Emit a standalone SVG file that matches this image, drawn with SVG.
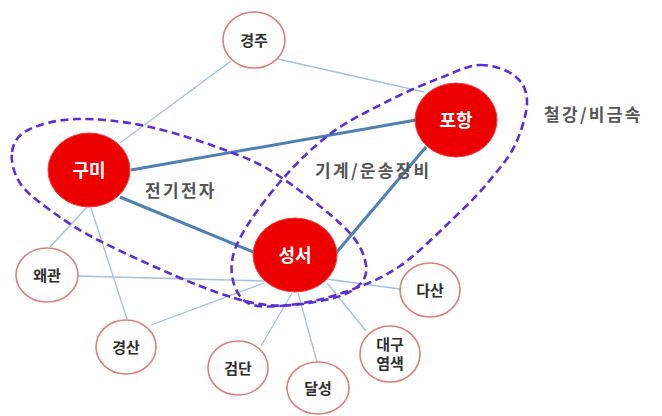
<svg xmlns="http://www.w3.org/2000/svg" width="662" height="416" viewBox="0 0 662 416">
<style>
.bg{fill:#ffffff}
.thin{stroke:#a3c1db;stroke-width:1.3;fill:none}
.thick{stroke:#4f7fb3;stroke-width:3;fill:none}
.cluster{fill:none;stroke:#5b2fd2;stroke-width:2.6;stroke-dasharray:8 4.5}
.big{fill:#ec0000;stroke:#ff3a3a;stroke-width:1}
.small{fill:#ffffff;stroke:#d9817b;stroke-width:1.6}
.bl{font-family:"Noto Sans CJK KR","Noto Sans",sans-serif;font-weight:bold;font-size:18px;fill:#ffffff;text-anchor:middle}
.sl{font-family:"Noto Sans CJK KR","Noto Sans",sans-serif;font-weight:bold;font-size:15px;fill:#2e2e2e;text-anchor:middle}
.cat{font-family:"Noto Sans CJK KR","Noto Sans",sans-serif;font-weight:bold;font-size:17px;fill:#555555;letter-spacing:2.3px}
</style>
<rect class="bg" x="0" y="0" width="662" height="416"/>
<g id="connectors">
<line class="thin" x1="120" y1="143" x2="231" y2="61"/>
<line class="thin" x1="278" y1="59" x2="424" y2="92"/>
<line class="thin" x1="87" y1="207" x2="50" y2="247"/>
<line class="thin" x1="91" y1="208" x2="127" y2="319"/>
<line class="thin" x1="77" y1="276" x2="265" y2="281"/>
<line class="thin" x1="151" y1="325" x2="264" y2="283"/>
<line class="thin" x1="261" y1="346" x2="292" y2="293"/>
<line class="thin" x1="317" y1="362" x2="298" y2="293"/>
<line class="thin" x1="366" y1="331" x2="327" y2="283"/>
<line class="thin" x1="400" y1="289" x2="326" y2="279"/>
<line class="thick" x1="131" y1="170" x2="416" y2="120"/>
<line class="thick" x1="120" y1="197" x2="256" y2="253"/>
<line class="thick" x1="426" y1="147" x2="336" y2="253"/>
</g>
<g id="clusters">
<path id="cluster-electronics" class="cluster" d="M12,152 C13.3,143.2 17.2,135.5 28,130 C38.8,124.5 56.7,119.5 77,119 C97.3,118.5 124,121.3 150,127 C176,132.7 211,144.5 233,153 C255,161.5 263,165.2 282,178 C301,190.8 333,215.5 347,230 C361,244.5 364.3,255.5 366,265 C367.7,274.5 363.8,281.2 357,287 C350.2,292.8 340,297 325,300 C310,303 287.8,307.3 267,305 C246.2,302.7 227.8,296.7 200,286 C172.2,275.3 125,253.7 100,241 C75,228.3 63.3,219.7 50,210 C36.7,200.3 26.3,192.7 20,183 C13.7,173.3 10.7,160.8 12,152 Z"/>
<path id="cluster-machinery" class="cluster" d="M480,65 C492.5,64.7 507.2,69.8 515,76 C522.8,82.2 527,90.5 527,102 C527,113.5 521.2,132 515,145 C508.8,158 499.2,168.8 490,180 C480.8,191.2 475,197.7 460,212 C445,226.3 419.2,252.7 400,266 C380.8,279.3 363.3,285.5 345,292 C326.7,298.5 306.2,303.2 290,305 C273.8,306.8 257.7,308 248,303 C238.3,298 233.3,285.8 232,275 C230.7,264.2 232,253.5 240,238 C248,222.5 265,199.3 280,182 C295,164.7 311.7,147.7 330,134 C348.3,120.3 371.7,109.3 390,100 C408.3,90.7 425,83.8 440,78 C455,72.2 467.5,65.3 480,65 Z"/>
</g>
<g id="n-gyeongju"><ellipse class="small" cx="254" cy="40" rx="31" ry="28"/><text class="sl" x="254" y="45.5">경주</text></g>
<g id="n-gumi"><ellipse class="big" cx="89" cy="170" rx="41" ry="37"/><text class="bl" x="89" y="176.5">구미</text></g>
<g id="n-pohang"><ellipse class="big" cx="456" cy="120" rx="41" ry="37"/><text class="bl" x="456" y="126.5">포항</text></g>
<g id="n-seongseo"><ellipse class="big" cx="295" cy="255" rx="42" ry="37"/><text class="bl" x="295" y="261.5">성서</text></g>
<g id="n-waegwan"><ellipse class="small" cx="47" cy="275" rx="31" ry="27"/><text class="sl" x="47" y="280.5">왜관</text></g>
<g id="n-gyeongsan"><ellipse class="small" cx="126" cy="347" rx="30" ry="27"/><text class="sl" x="126" y="352.5">경산</text></g>
<g id="n-geomdan"><ellipse class="small" cx="238" cy="368" rx="30" ry="27"/><text class="sl" x="238" y="373.5">검단</text></g>
<g id="n-dalseong"><ellipse class="small" cx="318" cy="388" rx="31" ry="26"/><text class="sl" x="318" y="393.5">달성</text></g>
<g id="n-dasan"><ellipse class="small" cx="430" cy="290" rx="30" ry="27"/><text class="sl" x="430" y="295.5">다산</text></g>
<g id="n-daegu-dyeing"><ellipse class="small" cx="390" cy="354" rx="30" ry="28"/><text class="sl" x="390" y="350">대구</text><text class="sl" x="390" y="369">염색</text></g>
<g id="labels">
<text class="cat" x="145" y="197">전기전자</text>
<text class="cat" x="315" y="176.5">기계/운송장비</text>
<text class="cat" x="544" y="120.5">철강/비금속</text>
</g>
</svg>
